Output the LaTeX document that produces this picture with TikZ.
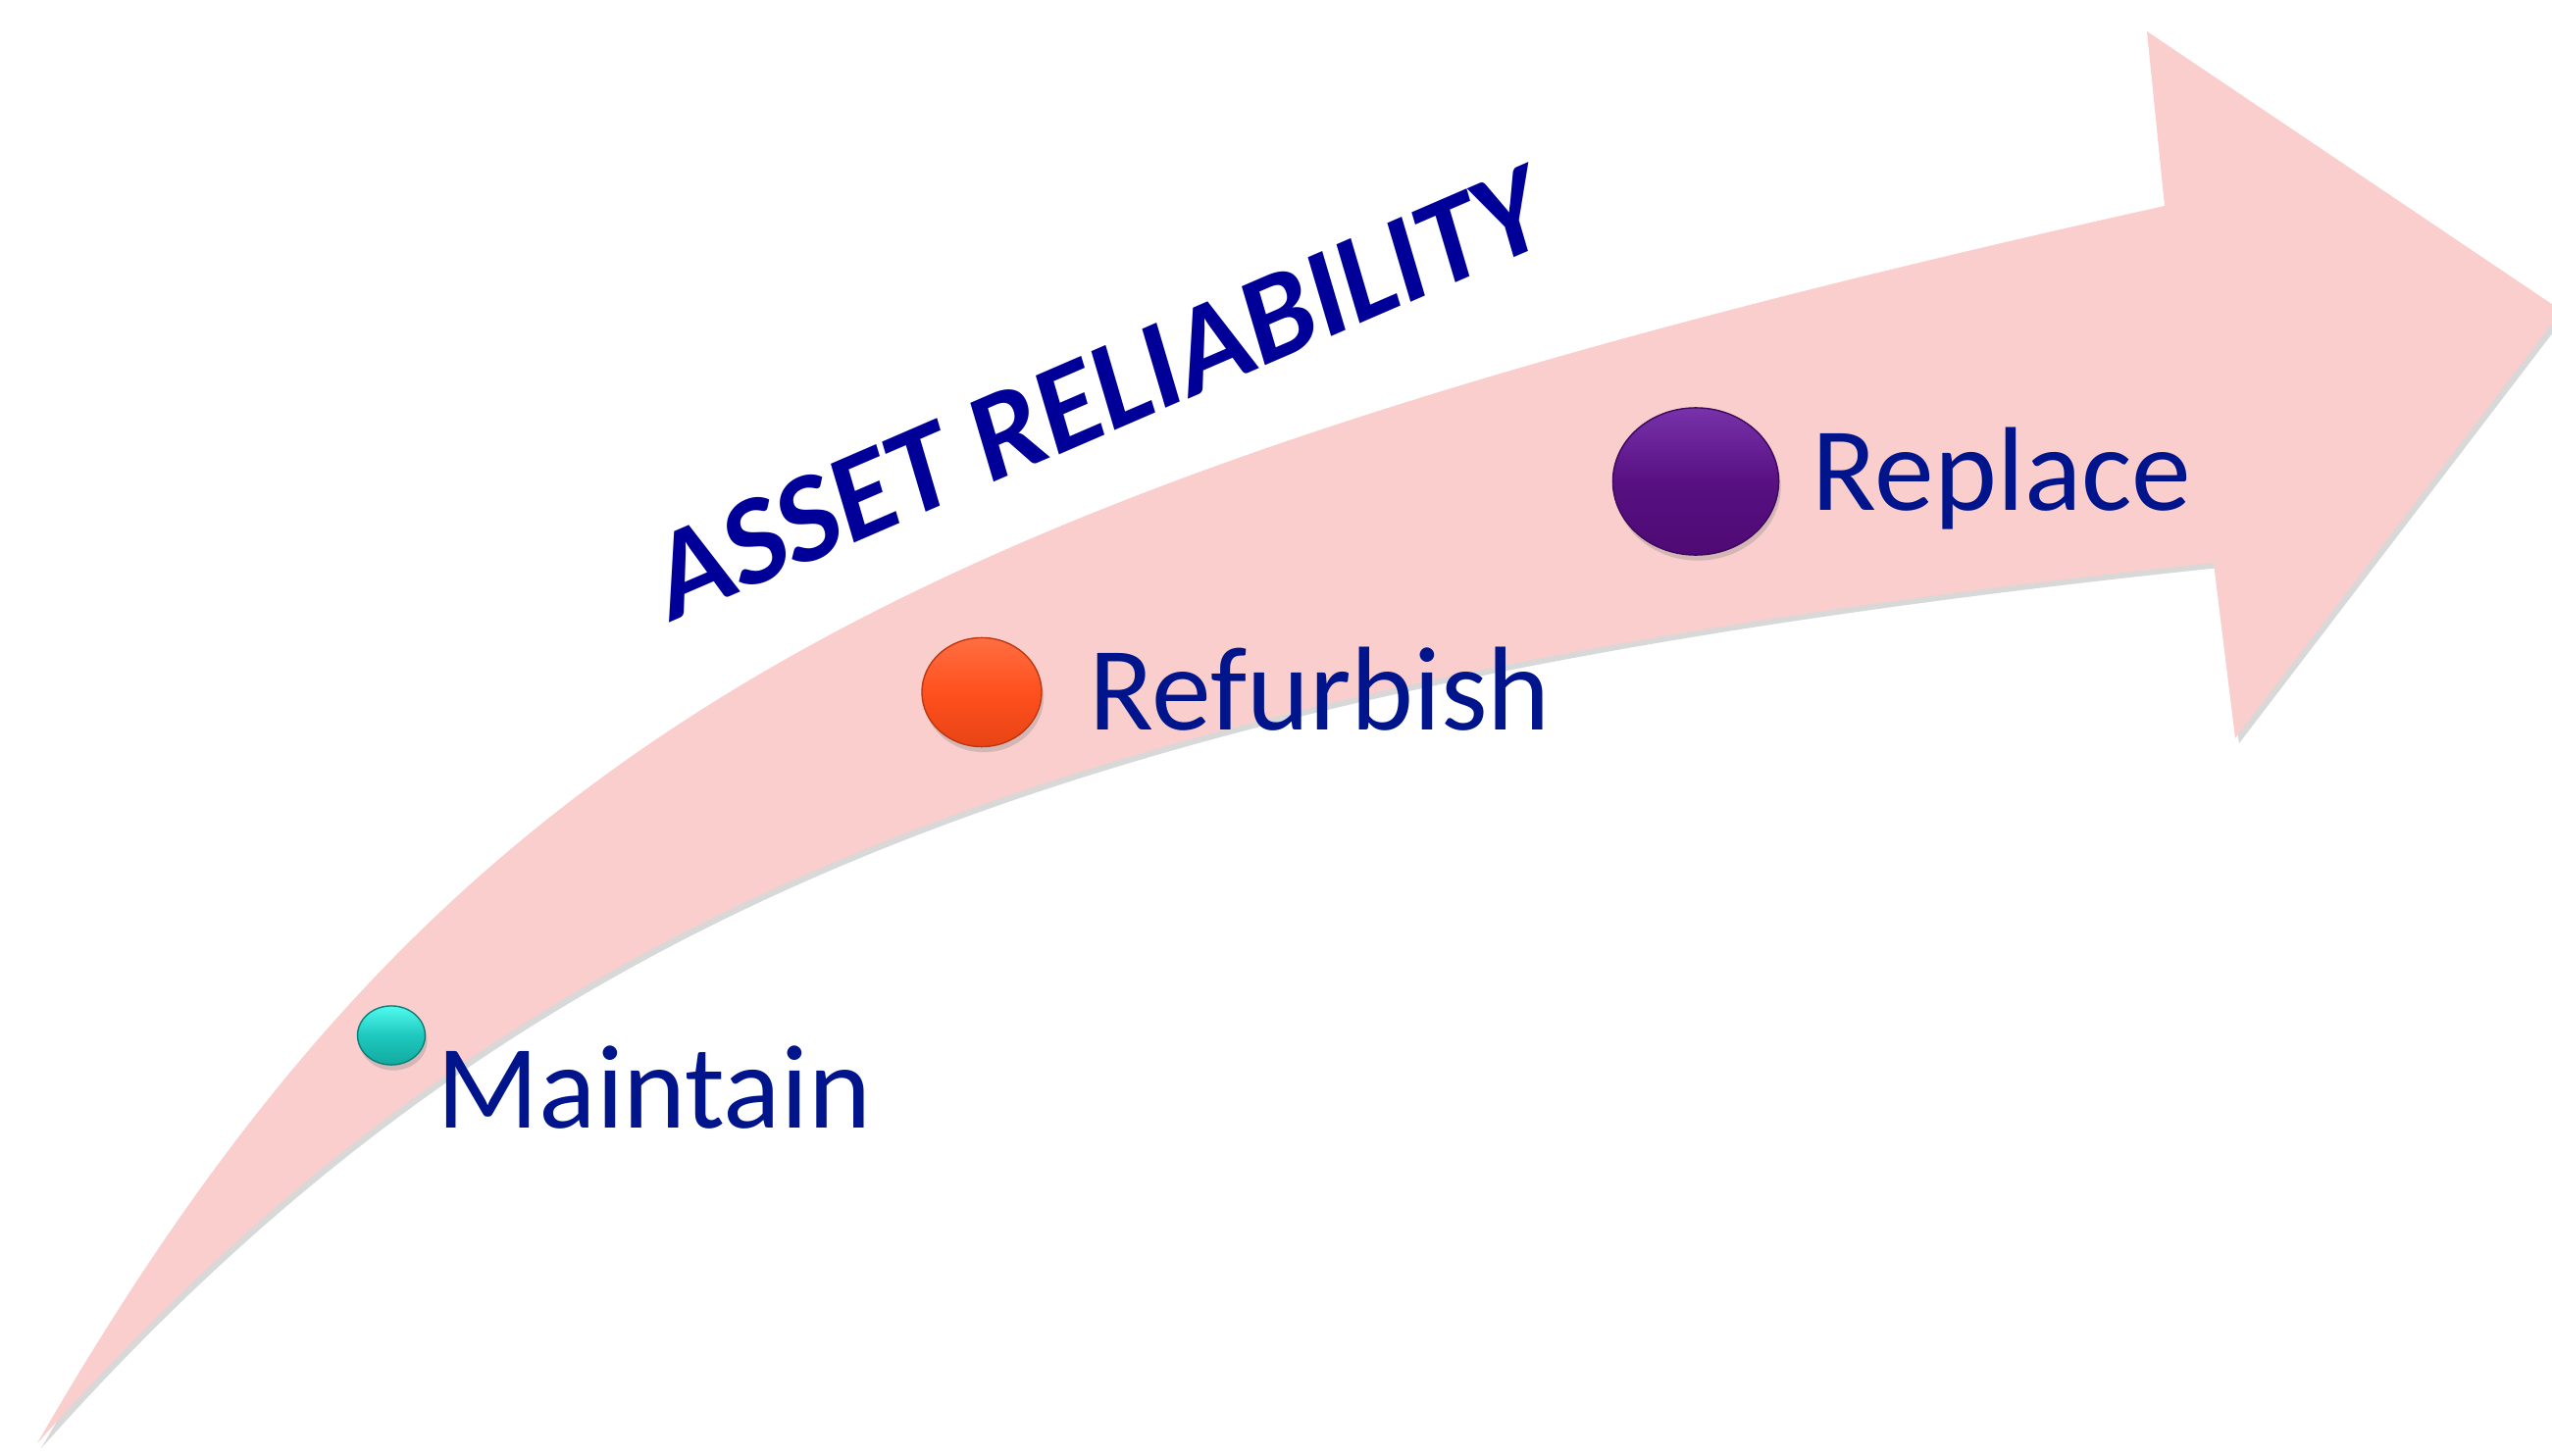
\documentclass[tikz,border=0pt]{standalone}
\usepackage{fontspec}
\setmainfont{Carlito}
\usetikzlibrary{shapes.geometric,shadows,positioning}

\definecolor{arrowpink}{RGB}{249,206,205}
\definecolor{titleblue}{RGB}{0,0,152}
\definecolor{textblue}{RGB}{0,20,140}

\begin{document}
\begin{tikzpicture}[x=0.01cm,y=-0.01cm,
  knob/.style={ellipse,inner sep=0pt,line width=0.4pt,
    drop shadow={shadow xshift=0.6pt,shadow yshift=-1.6pt,opacity=.3}},
  lbl/.style={anchor=base west,inner sep=0pt,text=textblue,font=\fontsize{34.6}{40}\selectfont}]
% background and frame
  \fill[white] (0,0) rectangle (2602,1485);
  \useasboundingbox (0,0) rectangle (2602,1485);

% the bent arrow
  \fill[arrowpink,drop shadow={shadow xshift=1.1pt,shadow yshift=-1.5pt,opacity=.3}]
    (38,1472) .. controls (450,758) and (884,505) .. (2207,210)
    -- (2189,32) -- (2612,317) -- (2279,753) -- (2257,574)
    .. controls (1083,697) and (528,921) .. (38,1472) -- cycle;

% title along the arrow
  \node[anchor=base west,inner sep=0pt,rotate=23.4,text=titleblue,
        font=\fontsize{36.5}{40}\selectfont\bfseries\itshape] (title) at (686,634) {ASSET RELIABILITY};

% the three knobs
  \node[knob,minimum width=19.6pt,minimum height=17.1pt,draw={rgb,255:red,11;green,126;blue,119},
        top color={rgb,255:red,80;green,250;blue,238},bottom color={rgb,255:red,18;green,170;blue,160},
        middle color={rgb,255:red,30;green,200;blue,190}] (k1) at (399,1056) {};
  \node[knob,minimum width=34.7pt,minimum height=31.6pt,draw={rgb,255:red,190;green,55;blue,15},
        top color={rgb,255:red,255;green,110;blue,65},bottom color={rgb,255:red,232;green,68;blue,20},
        middle color={rgb,255:red,255;green,80;blue,30}] (k2) at (1001,706) {};
  \node[knob,minimum width=48.1pt,minimum height=42.7pt,draw={rgb,255:red,62;green,8;blue,92},
        top color={rgb,255:red,120;green,50;blue,170},bottom color={rgb,255:red,78;green,10;blue,116},
        middle color={rgb,255:red,88;green,16;blue,130}] (k3) at (1729,491) {};

% the labels
  \node[lbl] (l1) at (445,1150) {Maintain};
  \node[lbl] (l2) at (1110,744) {Refurbish};
  \node[lbl] (l3) at (1847,520) {Replace};
\end{tikzpicture}
\end{document}
